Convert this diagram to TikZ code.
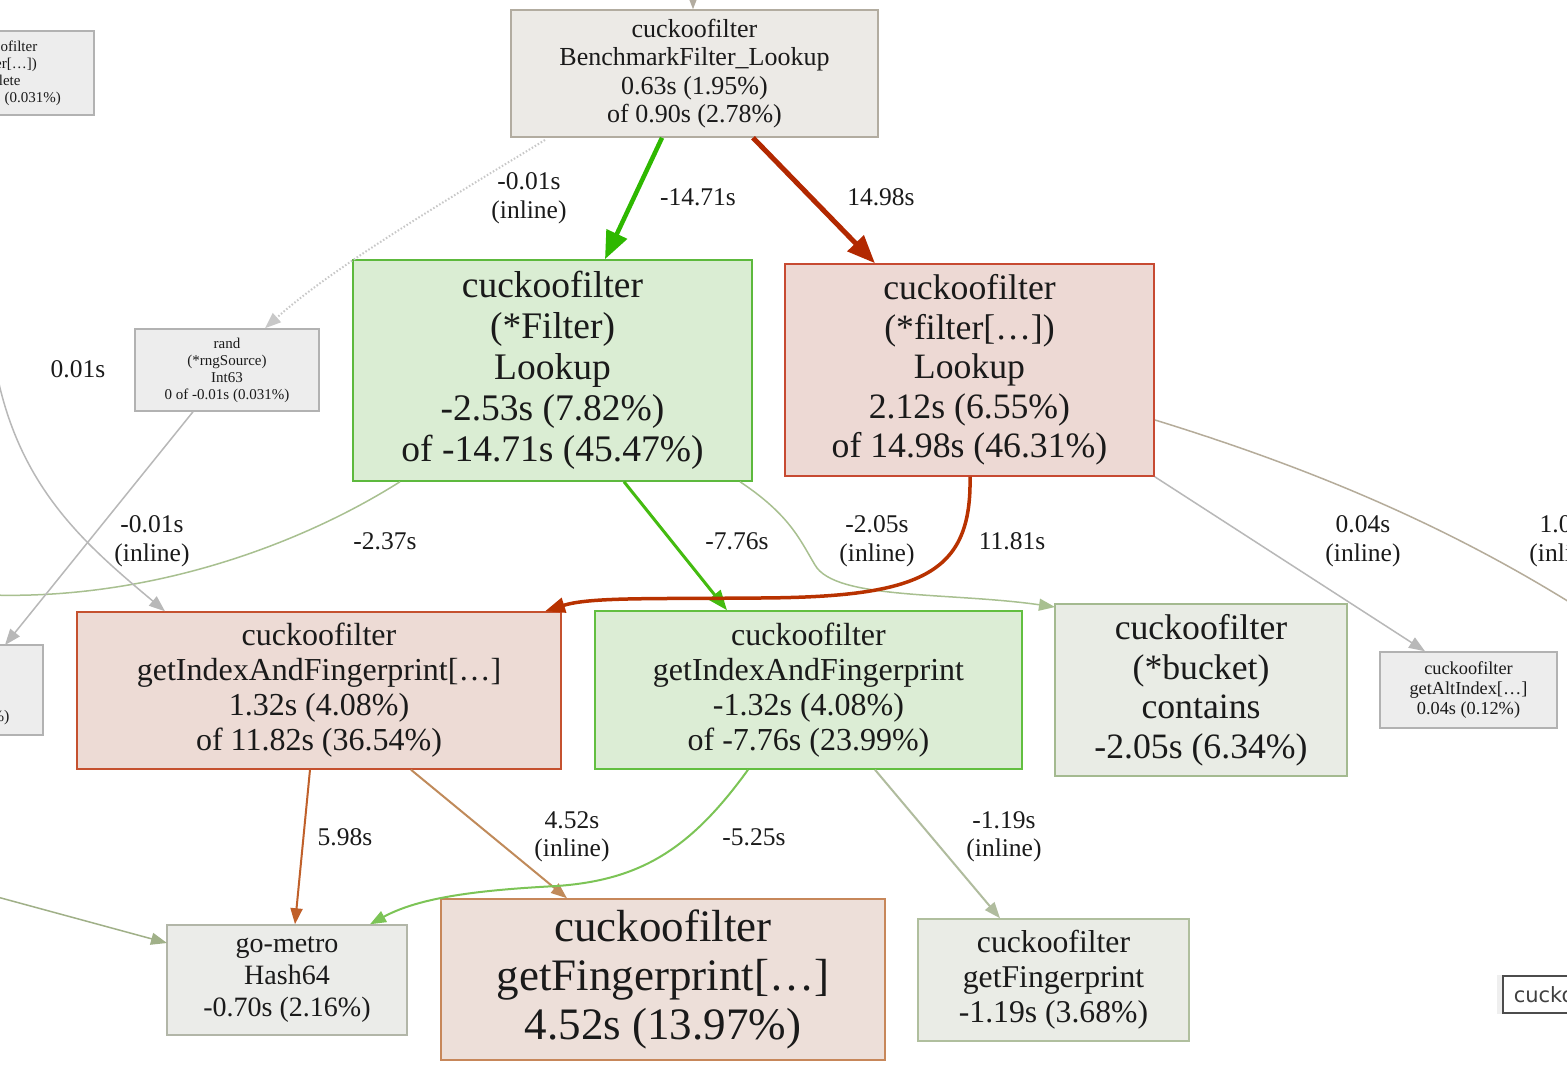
\documentclass[tikz,border=0pt]{standalone}
\usepackage{fontspec}
\setmainfont{Liberation Serif}
\newfontfamily\legendfont{DejaVu Sans}
\usetikzlibrary{arrows.meta,shadows}
\definecolor{txt}{HTML}{1A1A1A}
\definecolor{fgrey}{HTML}{ECEAE6}\definecolor{bgrey}{HTML}{B2ACA0}
\definecolor{fgreen}{HTML}{DAEDD3}\definecolor{bgreen}{HTML}{5DB93D}
\definecolor{fred}{HTML}{EDD9D4}\definecolor{bred}{HTML}{C74A32}
\definecolor{fneu}{HTML}{EDEDED}\definecolor{bneu}{HTML}{B2B2B2}
\definecolor{fred2}{HTML}{EDDBD5}\definecolor{bred2}{HTML}{C5512F}
\definecolor{fgreen2}{HTML}{DCEDD5}\definecolor{bgreen2}{HTML}{62BF40}
\definecolor{fbuck}{HTML}{E9ECE5}\definecolor{bbuck}{HTML}{A4BA90}
\definecolor{fhash}{HTML}{EBECE9}\definecolor{bhash}{HTML}{B2B6A8}
\definecolor{ffp}{HTML}{EDDFD9}\definecolor{bfp}{HTML}{C7875A}
\definecolor{ffp2}{HTML}{EAECE6}\definecolor{bfp2}{HTML}{B0BF9E}
\definecolor{egreen}{HTML}{2EB800}\definecolor{ered}{HTML}{B22800}
\definecolor{egreen2}{HTML}{44BB10}\definecolor{ered2}{HTML}{B83200}
\definecolor{egrey}{HTML}{B8B8B8}\definecolor{edot}{HTML}{C8C8C8}
\definecolor{elgreen}{HTML}{A8C090}\definecolor{eolive}{HTML}{A0B088}
\definecolor{etan}{HTML}{B5AC9A}\definecolor{eorange}{HTML}{C0602A}
\definecolor{ebrown}{HTML}{C08A5A}\definecolor{emgreen}{HTML}{7CC456}
\definecolor{egg}{HTML}{B0BC9E}
\begin{document}
\begin{tikzpicture}[x=1pt,y=-1pt,
  box/.style={draw, rectangle, inner sep=0pt, align=center, text=txt, line width=1.5pt},
  lbl/.style={font=\fontsize{25.5}{28.5}\selectfont, align=center, text=txt, inner sep=0pt},
  edge/.style={line width=1.5pt},
  thin/.style={-{Triangle[length=16pt,width=12pt]}},
  mid/.style={-{Triangle[length=20pt,width=15pt]}},
  thick/.style={-{Triangle[length=28pt,width=22pt]}}]
\useasboundingbox (0,0) rectangle (1567,1090);
\fill[white] (0,0) rectangle (1567,1090);
\clip (0,0) rectangle (1567,1090);

% nodes
\node[box, fill=fgrey, draw=bgrey, minimum width=367, minimum height=127,
  font=\fontsize{26}{28.5}\selectfont] (top) at (694.5,73.5)
  {cuckoofilter\\BenchmarkFilter\_Lookup\\0.63s (1.95\%)\\of 0.90s (2.78\%)};
\node[box, fill=fgreen, draw=bgreen, minimum width=399, minimum height=221,
  font=\fontsize{37.5}{41}\selectfont] (FL) at (552.5,370.5)
  {cuckoofilter\\(*Filter)\\Lookup\\-2.53s (7.82\%)\\of -14.71s (45.47\%)};
\node[box, fill=fred, draw=bred, minimum width=369, minimum height=212,
  font=\fontsize{35.7}{39.5}\selectfont] (fL) at (969.5,370)
  {cuckoofilter\\(*filter[…])\\Lookup\\2.12s (6.55\%)\\of 14.98s (46.31\%)};
\node[box, fill=fneu, draw=bneu, minimum width=184, minimum height=82,
  font=\fontsize{15}{17}\selectfont] (rand) at (227,370)
  {rand\\(*rngSource)\\Int63\\0 of -0.01s (0.031\%)};
\node[box, fill=fneu, draw=bneu, minimum width=186, minimum height=84,
  font=\fontsize{15}{17}\selectfont] (del) at (1,73)
  {cuckoofilter\\(*filter[…])\\Delete\\0 of 0.01s (0.031\%)};
\node[box, fill=fneu, draw=bneu, minimum width=200, minimum height=90,
  font=\fontsize{16}{18.5}\selectfont] (lock) at (-57,690)
  {math/rand\\(*lockedSource)\;\\Int63\\0 of -0.01s (0.031\%)};
\node[box, fill=fred2, draw=bred2, minimum width=484, minimum height=157,
  font=\fontsize{32}{35}\selectfont] (gIr) at (319,690.5)
  {cuckoofilter\\getIndexAndFingerprint[…]\\1.32s (4.08\%)\\of 11.82s (36.54\%)};
\node[box, fill=fgreen2, draw=bgreen2, minimum width=427, minimum height=158,
  font=\fontsize{32}{35}\selectfont] (gI) at (808.5,690)
  {cuckoofilter\\getIndexAndFingerprint\\-1.32s (4.08\%)\\of -7.76s (23.99\%)};
\node[box, fill=fbuck, draw=bbuck, minimum width=292, minimum height=172,
  font=\fontsize{35.7}{39.5}\selectfont] (buck) at (1201,690)
  {cuckoofilter\\(*bucket)\\contains\\-2.05s (6.34\%)};
\node[box, fill=fneu, draw=bneu, minimum width=177, minimum height=76,
  font=\fontsize{18.3}{20}\selectfont] (alt) at (1468.5,690)
  {cuckoofilter\\getAltIndex[…]\\0.04s (0.12\%)};
\node[box, fill=fhash, draw=bhash, minimum width=240, minimum height=110,
  font=\fontsize{28}{32}\selectfont] (hash) at (287,980)
  {go-metro\\Hash64\\-0.70s (2.16\%)};
\node[box, fill=ffp, draw=bfp, minimum width=444, minimum height=161,
  font=\fontsize{45}{49}\selectfont] (fpr) at (663,979.5)
  {cuckoofilter\\getFingerprint[…]\\4.52s (13.97\%)};
\node[box, fill=ffp2, draw=bfp2, minimum width=271, minimum height=122,
  font=\fontsize{31.7}{35}\selectfont] (fp) at (1053.5,980)
  {cuckoofilter\\getFingerprint\\-1.19s (3.68\%)};
\node[draw=black!70, fill=white, line width=1.5pt, anchor=west, minimum height=37,
  inner xsep=11pt, text=black!75, drop shadow={opacity=0.12, shadow xshift=0pt, shadow yshift=0pt, shadow scale=1.08},
  font=\legendfont\fontsize{21}{25}\selectfont] (leg) at (1502,994.5) {cuckoofilter};

% free ends
\coordinate (inTop) at (693,-30);
\coordinate (offL1) at (-10,595);
\coordinate (offL2) at (-10,895);
\coordinate (offL3) at (-8,345);
\coordinate (offR1) at (1590,615);

% edges
\draw[edge, draw=bgrey, thin] (inTop) -- (693,0 |- top.north);
\draw[edge, draw=egreen, line width=4.5pt, thick] (662,0 |- top.south) -- (605,0 |- FL.north);
\draw[edge, draw=ered, line width=5pt, thick] (753,0 |- top.south) -- (875,0 |- fL.north);
\draw[edge, draw=edot, dotted, line width=2pt, thin] (545,140) .. controls (430,210) and (330,270) .. (265,0 |- rand.north);
\draw[edge, draw=egreen2, line width=3pt, mid] (624,0 |- FL.south) -- (727,0 |- gI.north);
\draw[edge, draw=elgreen, thin] (740,0 |- FL.south) .. controls (790,515) and (800,540) .. (815,565)
  .. controls (835,600) and (950,592) .. (1055,607);
\draw[edge, draw=elgreen] (400,0 |- FL.south) .. controls (300,545) and (150,600) .. (offL1);
\draw[edge, draw=ered2, line width=3.5pt, mid] (970,0 |- fL.south) .. controls (972,575) and (920,597) .. (760,598)
  .. controls (650,599) and (590,597) .. (545,0 |- gIr.north);
\draw[edge, draw=egrey, thin] (fL.south east) -- (1425,0 |- alt.north);
\draw[edge, draw=etan] (1155,420) .. controls (1350,480) and (1480,545) .. (offR1);
\draw[edge, draw=egrey, thin] (193,0 |- rand.south) -- (5,645);
\draw[edge, draw=egrey, thin] (offL3) .. controls (10,480) and (80,540) .. (165,0 |- gIr.north);
\draw[edge, draw=eorange, line width=2pt, thin] (310,0 |- gIr.south) -- (295,0 |- hash.north);
\draw[edge, draw=ebrown, line width=2pt, thin] (411,0 |- gIr.south) -- (567,0 |- fpr.north);
\draw[edge, draw=emgreen, line width=2pt, thin] (748,0 |- gI.south) .. controls (690,850) and (640,880) .. (557,886)
  .. controls (480,890) and (420,897) .. (370,0 |- hash.north);
\draw[edge, draw=egg, line width=2pt, thin] (875,0 |- gI.south) -- (1000,0 |- fp.north);
\draw[edge, draw=eolive, thin] (offL2) -- (167,943);

% labels
\node[lbl] (l1) at (698,197) {-14.71s};
\node[lbl] (l2) at (881,197) {14.98s};
\node[lbl] (l3) at (529,198) {-0.01s\\(inline)};
\node[lbl] (l4) at (78,369) {0.01s};
\node[lbl] (l5) at (152,541) {-0.01s\\(inline)};
\node[lbl] (l6) at (385,541) {-2.37s};
\node[lbl] (l7) at (737,541) {-7.76s};
\node[lbl] (l8) at (877,541) {-2.05s\\(inline)};
\node[lbl] (l9) at (1012,541) {11.81s};
\node[lbl] (l10) at (1363,541) {0.04s\\(inline)};
\node[lbl] (l11) at (1567,541) {1.04s\\(inline)};
\node[lbl] (l12) at (345,837) {5.98s};
\node[lbl] (l13) at (572,837) {4.52s\\(inline)};
\node[lbl] (l14) at (754,837) {-5.25s};
\node[lbl] (l15) at (1004,837) {-1.19s\\(inline)};
\end{tikzpicture}
\end{document}
